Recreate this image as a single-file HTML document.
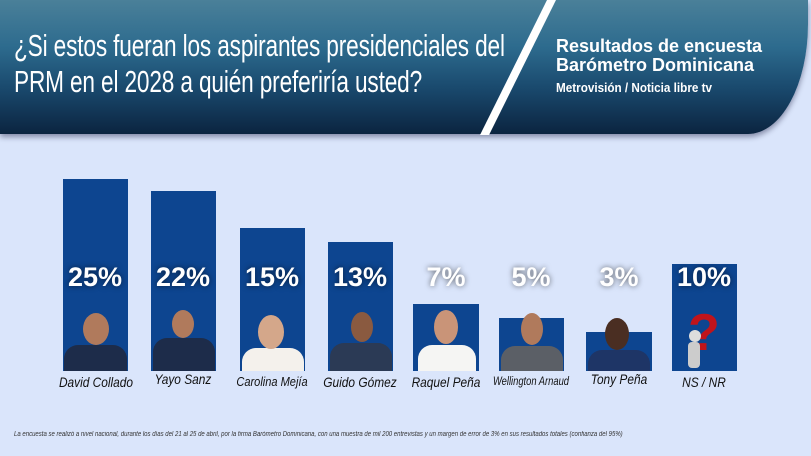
<!DOCTYPE html><html><head><meta charset="utf-8"><style>
body{margin:0;width:811px;height:456px;overflow:hidden;background:#dae5fb;font-family:"Liberation Sans",sans-serif;position:relative}
.hdr{position:absolute;left:0;top:0;width:808px;height:134px;background:linear-gradient(#4a8099 0%,#2d6b8e 35%,#1a4a6e 65%,#0b2440 100%);border-bottom-right-radius:60px 110px;box-shadow:0 3px 6px rgba(0,0,40,.4)}
.t1{position:absolute;left:14px;top:28px;color:#fff;font-size:31px;line-height:36px;transform:scaleX(.73);transform-origin:0 0;white-space:nowrap;letter-spacing:-.2px}
.t2{position:absolute;left:556px;top:37px;color:#fff;font-weight:bold;font-size:18px;line-height:19px}
.t3{position:absolute;left:556px;top:80px;color:#fff;font-weight:bold;font-size:13px;transform:scaleX(.9);transform-origin:0 0;white-space:nowrap}
.bar{position:absolute;background:#0d4590;bottom:85px}
.p{position:absolute;width:90px;text-align:center;color:#fff;font-weight:bold;font-size:27px;top:262px;text-shadow:0 0 6px rgba(0,0,0,.6)}
.n{position:absolute;width:110px;text-align:center;font-style:italic;font-size:14px;top:374px;color:#111;transform:scaleX(.85)}
.head{position:absolute;border-radius:50%;background:#b07a5c}
.suit{position:absolute;border-radius:14px 14px 0 0;background:#1d2c4a;bottom:85px}
.foot{position:absolute;left:14px;top:431px;font-size:7px;font-style:italic;color:#333;transform:scaleX(.86);transform-origin:0 0;white-space:nowrap}
</style></head><body>
<div class="hdr"></div>
<svg style="position:absolute;left:0;top:0" width="811" height="140"><polygon points="547,0 556,0 489,135 480,135" fill="#fff"/></svg>
<div class="t1">¿Si estos fueran los aspirantes presidenciales del<br>PRM en el 2028 a quién preferiría usted?</div>
<div class="t2">Resultados de encuesta<br>Barómetro Dominicana</div>
<div class="t3">Metrovisión / Noticia libre tv</div>

<div class="bar" style="left:63px;width:65px;top:179px"></div>
<div class="bar" style="left:151px;width:65px;top:191px"></div>
<div class="bar" style="left:240px;width:65px;top:228px"></div>
<div class="bar" style="left:328px;width:65px;top:242px"></div>
<div class="bar" style="left:413px;width:66px;top:304px"></div>
<div class="bar" style="left:499px;width:65px;top:318px"></div>
<div class="bar" style="left:586px;width:66px;top:332px"></div>
<div class="bar" style="left:672px;width:65px;top:264px"></div>

<div class="suit" style="left:64px;width:63px;top:345px"></div><div class="head" style="left:83px;top:313px;width:26px;height:32px"></div>
<div class="suit" style="left:153px;width:62px;top:338px"></div><div class="head" style="left:172px;top:310px;width:22px;height:28px"></div>
<div class="suit" style="left:242px;width:62px;top:348px;background:#f4f1ec"></div><div class="head" style="left:258px;top:315px;width:26px;height:34px;background:#d4a78a"></div>
<div class="suit" style="left:330px;width:62px;top:343px;background:#2b3a55"></div><div class="head" style="left:351px;top:312px;width:22px;height:30px;background:#8a5a40"></div>
<div class="suit" style="left:418px;width:58px;top:345px;background:#f5f5f3"></div><div class="head" style="left:434px;top:310px;width:24px;height:34px;background:#c99478"></div>
<div class="suit" style="left:501px;width:62px;top:346px;background:#5b5f66"></div><div class="head" style="left:521px;top:313px;width:22px;height:32px"></div>
<div class="suit" style="left:588px;width:62px;top:350px;background:#1e3566"></div><div class="head" style="left:605px;top:318px;width:24px;height:32px;background:#4a2e22"></div>
<div style="position:absolute;left:688px;top:305px;font-size:52px;font-weight:bold;color:#c0141b;line-height:56px">?</div>
<div class="head" style="left:689px;top:330px;width:12px;height:12px;background:#ddd"></div>
<div style="position:absolute;left:688px;top:342px;width:12px;height:26px;background:#ccc;border-radius:4px"></div>

<div class="p" style="left:50px">25%</div>
<div class="p" style="left:138px">22%</div>
<div class="p" style="left:227px">15%</div>
<div class="p" style="left:315px">13%</div>
<div class="p" style="left:401px">7%</div>
<div class="p" style="left:486px">5%</div>
<div class="p" style="left:574px">3%</div>
<div class="p" style="left:659px">10%</div>

<div class="n" style="left:41px">David Collado</div>
<div class="n" style="left:128px;top:371px">Yayo Sanz</div>
<div class="n" style="left:217px;font-size:13px">Carolina Mejía</div>
<div class="n" style="left:305px">Guido Gómez</div>
<div class="n" style="left:391px">Raquel Peña</div>
<div class="n" style="left:476px;font-size:12px;transform:scaleX(.78)">Wellington Arnaud</div>
<div class="n" style="left:564px;top:371px">Tony Peña</div>
<div class="n" style="left:649px">NS / NR</div>

<div class="foot">La encuesta se realizó a nivel nacional, durante los días del 21 al 25 de abril, por la firma Barómetro Dominicana, con una muestra de mil 200 entrevistas y un margen de error de 3% en sus resultados totales (confianza del 95%)</div>
</body></html>
